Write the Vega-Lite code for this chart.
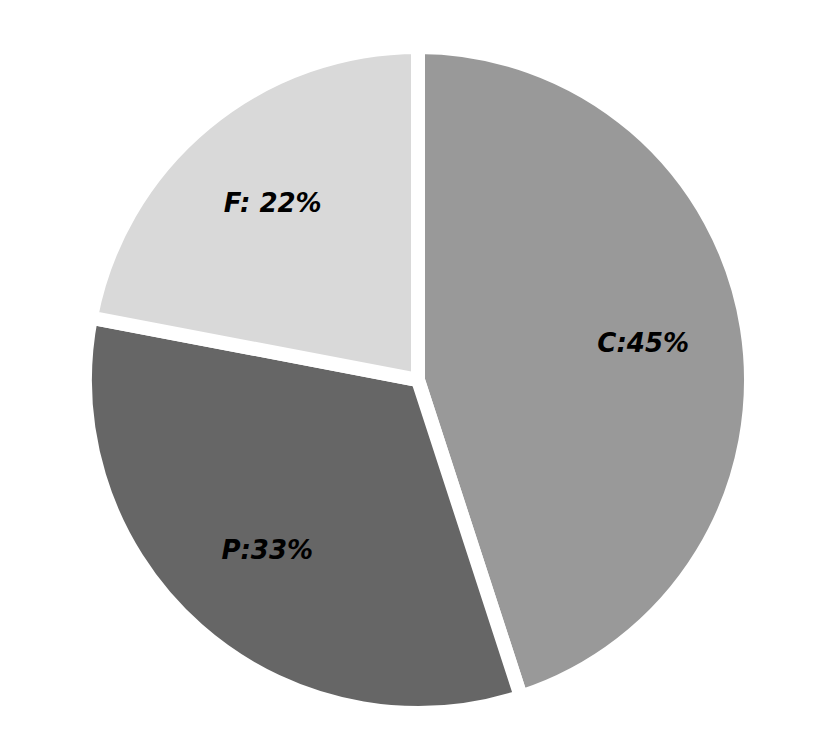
{
  "$schema": "https://vega.github.io/schema/vega-lite/v6.json",
  "width": 652,
  "height": 652,
  "autosize": {"type": "none"},
  "padding": {"left": 92, "top": 54, "right": 80, "bottom": 40},
  "background": "white",
  "config": {"view": {"stroke": null}},
  "data": {"values": [
    {"cat": "C", "value": 45, "label": "C:45%", "order": 1},
    {"cat": "P", "value": 33, "label": "P:33%", "order": 2},
    {"cat": "F", "value": 22, "label": "F: 22%", "order": 3}
  ]},
  "encoding": {
    "theta": {"field": "value", "type": "quantitative", "stack": true},
    "order": {"field": "order", "type": "quantitative"}
  },
  "layer": [
    {
      "mark": {"type": "arc", "outerRadius": 333, "stroke": "white", "strokeWidth": 14},
      "encoding": {
        "color": {"field": "cat", "type": "nominal", "legend": null,
          "scale": {"domain": ["C", "P", "F"], "range": ["#999999", "#666666", "#d9d9d9"]}}
      }
    },
    {
      "mark": {"type": "text", "radius": 228, "font": "DejaVu Sans", "fontStyle": "italic", "fontWeight": "bold", "fontSize": 26, "color": "black"},
      "encoding": {"text": {"field": "label", "type": "nominal"}}
    }
  ]
}
